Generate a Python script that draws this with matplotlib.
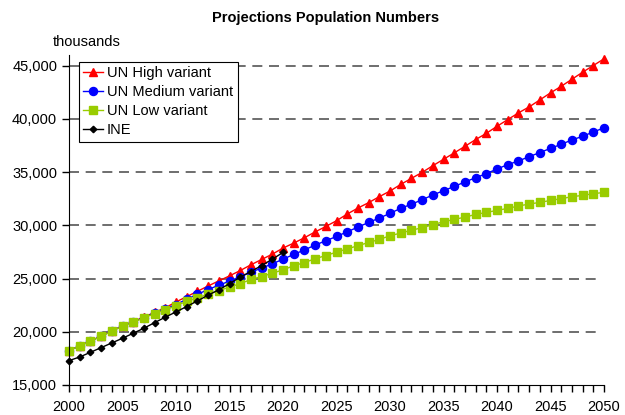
import numpy as np
import matplotlib.pyplot as plt
from matplotlib.ticker import FuncFormatter, MultipleLocator

plt.rcParams['font.family'] = ['Liberation Sans', 'DejaVu Sans']

anos = np.arange(2000, 2051)
anos_ine = np.arange(2000, 2021)

# populacao em milhares
alta = [18230, 18680, 19130, 19600, 20080, 20560, 20960, 21380, 21820, 22250,
        22800, 23300, 23800, 24300, 24780, 25250, 25750, 26290, 26790, 27290,
        27860, 28330, 28830, 29380, 29890, 30430, 31060, 31620, 32130, 32690,
        33220, 33840, 34410, 34970, 35600, 36200, 36800, 37420, 38050, 38640,
        39300, 39930, 40560, 41120, 41780, 42440, 43060, 43720, 44380, 45010,
        45640]
media = [18230, 18670, 19120, 19590, 20060, 20540, 20930, 21340, 21760, 22130,
         22560, 23050, 23520, 23960, 24380, 24750, 25160, 25600, 25980, 26380,
         26820, 27260, 27690, 28140, 28550, 28950, 29390, 29830, 30270, 30680,
         31120, 31600, 31980, 32400, 32850, 33250, 33650, 34070, 34470, 34850,
         35290, 35700, 36040, 36450, 36830, 37230, 37610, 38020, 38360, 38770,
         39150]
baixa = [18230, 18670, 19110, 19580, 20050, 20520, 20900, 21300, 21710, 22060,
         22430, 22870, 23180, 23530, 23870, 24190, 24520, 24910, 25190, 25500,
         25820, 26200, 26500, 26860, 27160, 27480, 27790, 28080, 28390, 28670,
         29020, 29270, 29540, 29770, 30060, 30330, 30550, 30770, 31020, 31210,
         31400, 31590, 31810, 32000, 32150, 32340, 32500, 32690, 32810, 32970,
         33090]
ine = [17290, 17630, 18070, 18510, 18950, 19390, 19860, 20330, 20860, 21370,
       21870, 22370, 22900, 23440, 23940, 24520, 25130, 25660, 26220, 26820,
       27450]

fig = plt.figure(figsize=(6.25, 4.15), dpi=100)
ax = fig.add_axes([0.1104, 0.0723, 0.856, 0.7952])

ax.plot(anos, alta, color='#ff0000', marker='^', ms=6, lw=1, clip_on=False, label='UN High variant')
ax.plot(anos, media, color='#0000ff', marker='o', ms=5.8, lw=1, clip_on=False, label='UN Medium variant')
ax.plot(anos, baixa, color='#99cc00', marker='s', ms=5.5, lw=1, clip_on=False, label='UN Low variant')
ax.plot(anos_ine, ine, color='black', marker='D', ms=3.3, lw=1, clip_on=False, label='INE')

for v in range(20000, 45001, 5000):
    ax.plot([2000, 2049.6], [v, v], color='#555555', lw=1.2, ls=(0, (6, 4)), zorder=0.5)

ax.set_xlim(2000, 2050)
ax.set_ylim(15000, 46000)
ax.xaxis.set_major_locator(MultipleLocator(5))
ax.xaxis.set_minor_locator(MultipleLocator(1))
ax.set_yticks(range(15000, 45001, 5000))
ax.yaxis.set_major_formatter(FuncFormatter(lambda v, p: f'{int(v):,}'))
ax.tick_params(axis='both', labelsize=10.5, direction='out', length=5, width=1, color='black')
ax.tick_params(axis='x', which='minor', length=5, width=1)
ax.tick_params(axis='x', pad=6)
for s in ['top', 'right']:
    ax.spines[s].set_visible(False)

fig.text(0.521, 0.957, 'Projections Population Numbers', ha='center', va='center',
         fontsize=10.5, fontweight='bold')
fig.text(0.084, 0.898, 'thousands', ha='left', va='center', fontsize=10.5)

leg = ax.legend(loc='upper left', bbox_to_anchor=(0.018, 0.98), fontsize=10.5,
                fancybox=False, edgecolor='black', framealpha=1,
                handlelength=1.4, handletextpad=0.25, labelspacing=0.35,
                borderpad=0.3, borderaxespad=0)
leg.get_frame().set_linewidth(0.8)

fig.savefig('out.png', dpi=100)
